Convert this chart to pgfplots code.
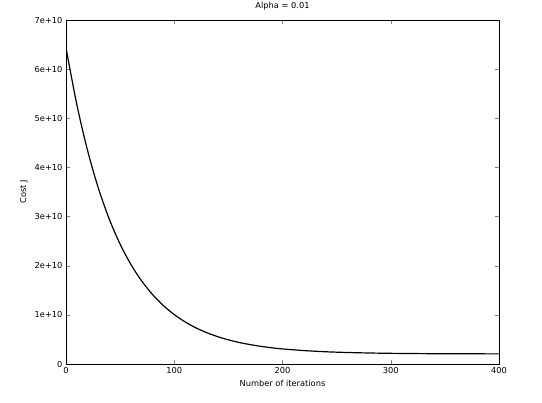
\documentclass[border=0pt]{standalone}
\usepackage{pgfplots}
\pgfplotsset{compat=1.18}
\usepackage{fontspec}
\setmainfont{DejaVu Sans}
\begin{document}
\begin{tikzpicture}
\useasboundingbox (0,0) rectangle (542bp,403bp);
\begin{axis}[at={(66bp,39bp)}, anchor=south west, scale only axis,
 width=433bp, height=344bp, xmin=0, xmax=400, ymin=0, ymax=7e10,
 xtick={0,100,...,400}, ytick={0,1e10,2e10,3e10,4e10,5e10,6e10,7e10},
 yticklabels={0,1e+10,2e+10,3e+10,4e+10,5e+10,6e+10,7e+10},
 scaled y ticks=false, tick align=inside, tick pos=both,
 major tick length=4bp, minor tick num=0,
 ticklabel style={font=\fontsize{8.3}{10}\selectfont},
 /pgf/number format/assume math mode=true,
 xlabel={Number of iterations}, ylabel={Cost J},
 label style={font=\fontsize{8.3}{10}\selectfont},
 title={Alpha = 0.01}, title style={font=\fontsize{8.3}{10}\selectfont},
 axis line style={black, line width=0.4pt}]
\addplot[black, line width=1.2pt, smooth] coordinates {
(0,64.34e9)(10,52.79e9)(20,43.38e9)(30,35.71e9)(40,29.47e9)(50,24.39e9)
(60,20.24e9)(70,16.87e9)(80,14.12e9)(90,11.88e9)(100,10.06e9)(110,8.57e9)
(120,7.36e9)(130,6.38e9)(140,5.57e9)(150,4.92e9)(160,4.38e9)(170,3.95e9)
(180,3.60e9)(190,3.30e9)(200,3.07e9)(220,2.73e9)(240,2.49e9)(260,2.34e9)
(280,2.24e9)(300,2.17e9)(330,2.11e9)(360,2.08e9)(400,2.06e9)};
\end{axis}
\end{tikzpicture}
\end{document}
